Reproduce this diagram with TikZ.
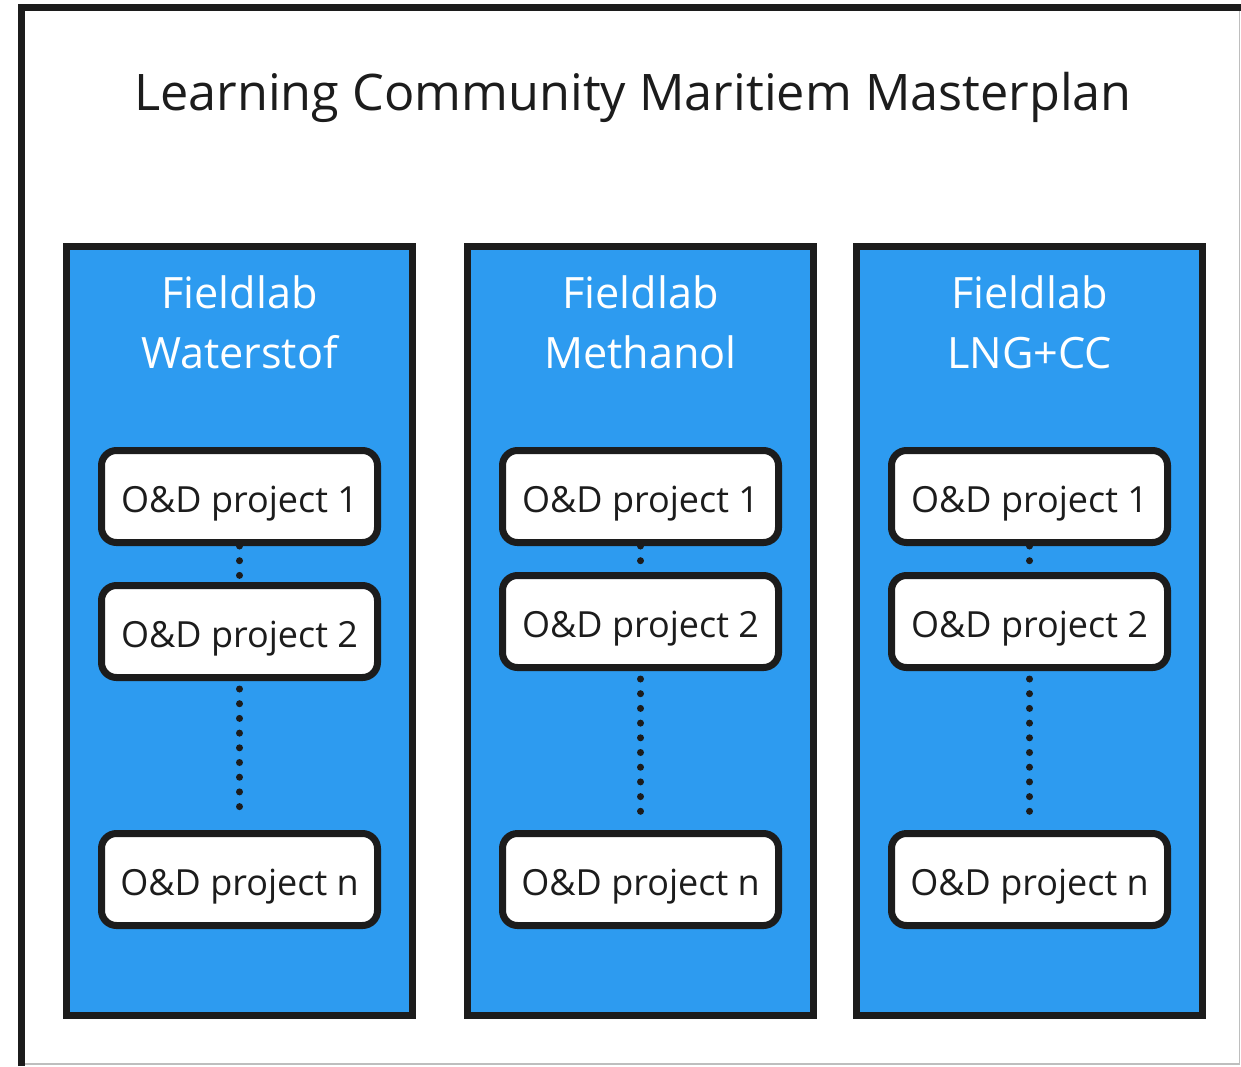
\documentclass[tikz,border=0pt]{standalone}
\usepackage{fontspec}
\setmainfont{Open Sans}
\definecolor{labblue}{RGB}{45,155,240}
\definecolor{inkblack}{RGB}{28,28,28}
\definecolor{edgegray}{RGB}{190,190,190}

\begin{document}
\begin{tikzpicture}[x = 0.5pt, y = -0.5pt,
	fieldlab/.style = {draw = inkblack, fill = labblue, line width = 3.5pt, minimum width = 173pt, minimum height = 384.5pt, inner sep = 0pt},
	labtext/.style = {text = white, align = center, font = \fontsize{21.6}{30}\selectfont},
	project/.style = {draw = inkblack, fill = white, line width = 3.5pt, rounded corners = 7.5pt, minimum width = 138pt, minimum height = 46pt, inner sep = 0pt, text = inkblack, font = \fontsize{18}{22}\selectfont, text height = 15.5pt, text depth = 0pt},
	dots/.style = {draw = inkblack, line width = 3.5pt, line cap = round, dash pattern = on 0pt off 7.35pt}]
	\useasboundingbox (0,0) rectangle (1241,1066);
	
	% outer frame
	\draw[edgegray, line width = 0.6pt] (1239.5,7.5) -- (1239.5,1064) -- (21.5,1064);
	\draw[inkblack, line width = 3.5pt] (21.5,1066) -- (21.5,7.5) -- (1241,7.5);
	
	% title
	\node[anchor = base, text = inkblack, font = \fontsize{25.2}{30}\selectfont] (title) at (633,110) {Learning Community Maritiem Masterplan};
	
	% fieldlabs
	\foreach \name/\cx/\ytwo/\lab in {wat/239.5/631.5/Waterstof, met/640.5/621.5/Methanol, lng/1029.5/621.5/LNG+CC} {
		\node[fieldlab] (\name) at (\cx, 631) {};
		\node[labtext] (\name head) at (\cx, 322) {Fieldlab\\\lab};
		
		% projects
		\node[project] (\name1) at (\cx, 496.5) {O\&D project 1};
		\node[project] (\name2) at (\cx, \ytwo) {O\&D project 2};
		\node[project] (\name n) at (\cx, 879.5) {O\&D project n};
		
		\draw[dots] (\name1.south) -- (\name2.north);
		\draw[dots, shorten <= 4pt, shorten >= 6pt] (\name2.south) -- (\name n.north);
	}
\end{tikzpicture}
\end{document}
